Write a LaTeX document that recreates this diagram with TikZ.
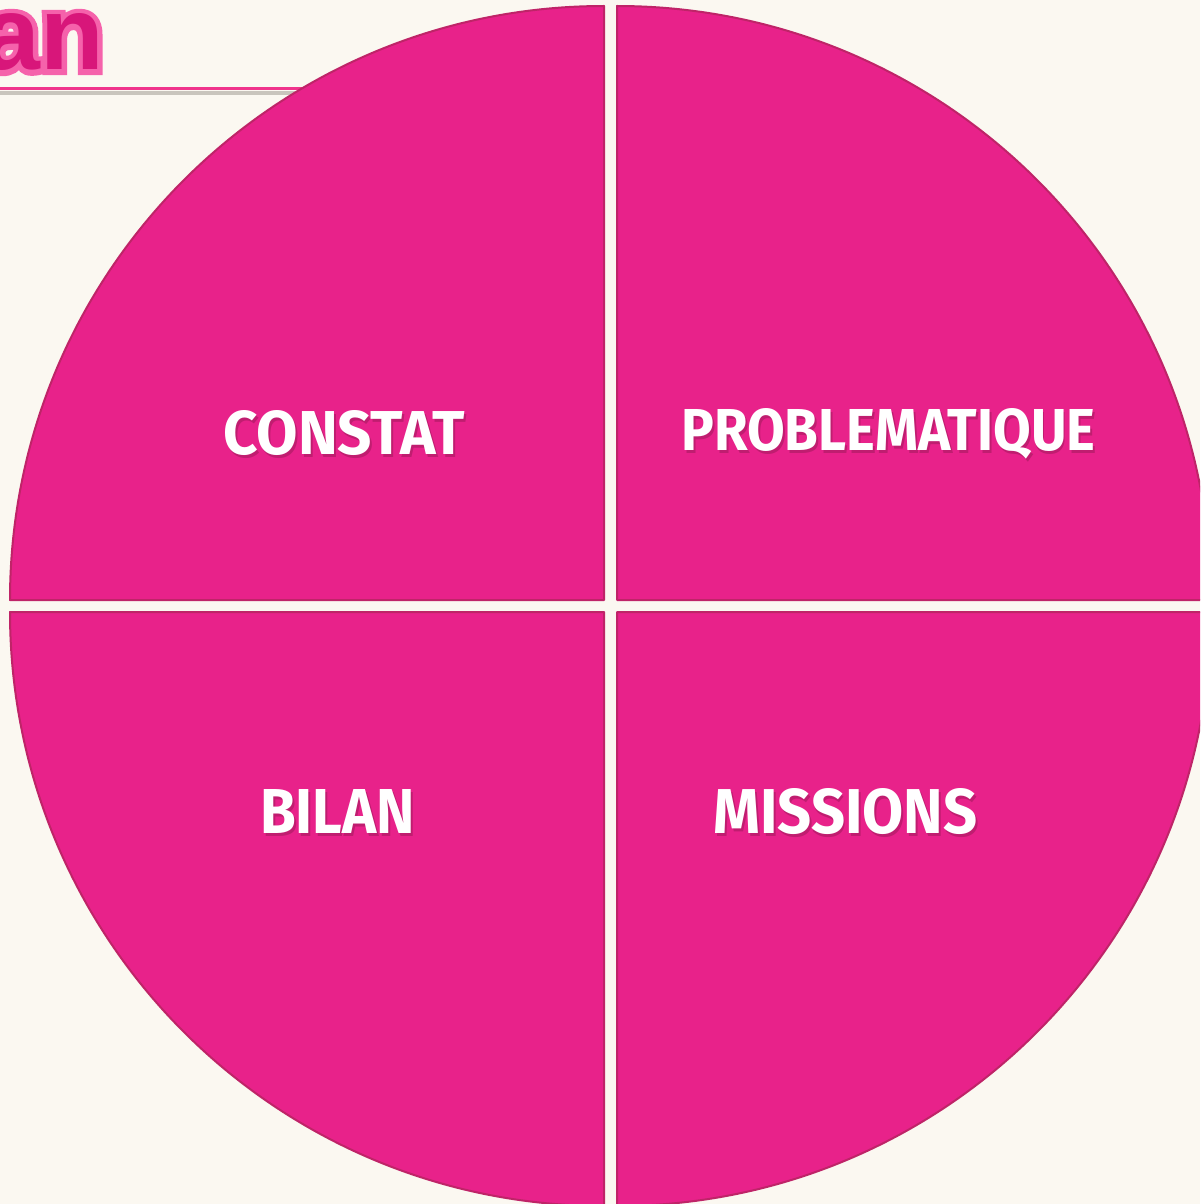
\documentclass[tikz,border=0pt]{standalone}
\usepackage{fontspec}
\newfontfamily\labfont{Fira Sans}
\newfontfamily\titlefont{Liberation Sans Bold}
\newfontfamily\titleoutfont{Liberation Sans Bold}[FakeBold=10]
\definecolor{bgcream}{HTML}{FBF8F1}
\definecolor{qpink}{HTML}{E8228A}
\definecolor{qedge}{HTML}{BF2468}
\definecolor{linepink}{HTML}{F0348C}
\definecolor{lineshadow}{HTML}{C9C5BD}
\definecolor{titlefill}{HTML}{D8167A}
\definecolor{titleout}{HTML}{F562AB}
\definecolor{shadowpink}{HTML}{C01D70}
\tikzset{
  quad/.style={fill=qpink, draw=qedge, line width=2pt, line join=round},
  lab/.style={inner sep=0pt, anchor=base west, text=white},
  titlem/.style={inner sep=0pt, anchor=base east, text=titlefill, font=\fontsize{104}{104}\selectfont}
}
% a copy of #3 shifted by (#1,#2) that takes no width
\newcommand{\shiftcopy}[3]{\makebox[0pt][l]{\hspace*{#1}\raisebox{#2}{#3}}}
% label with drop shadow in one box
\newcommand{\lbl}[3]{\shiftcopy{2pt}{-3pt}{\color{shadowpink}\resizebox{#1}{#2}{\labfont\bfseries #3}}\resizebox{#1}{#2}{\labfont\bfseries #3}}
% title with outline in one box
\newcommand{\ttl}[1]{\shiftcopy{0pt}{0pt}{\color{titleout}\titleoutfont #1}{\titlefont #1}}
\begin{document}
\begin{tikzpicture}[x=1pt,y=-1pt]
\fill[bgcream] (0,0) rectangle (1200,1204);
\useasboundingbox (0,0) rectangle (1200,1204);
\begin{scope}
\clip (0,0) rectangle (1200,1204);
% title underline
\draw[line width=4pt, color=lineshadow] (0,93.5) -- (330,93.5);
\draw[line width=3pt, color=linepink] (0,88.5) -- (330,88.5);
% title text
\node[titlem] (title) at (104,70) {\ttl{an}};
% quadrants
\path[quad] (604,600) -- (604,6) arc[start angle=270, end angle=180, radius=594] -- cycle;
\path[quad] (617,600) -- (617,6) arc[start angle=270, end angle=360, radius=594] -- cycle;
\path[quad] (604,612) -- (10,612) arc[start angle=180, end angle=90, radius=594] -- cycle;
\path[quad] (617,612) -- (1211,612) arc[start angle=0, end angle=90, radius=594] -- cycle;
% labels
\node[lab] (constat) at (223,454) {\lbl{242pt}{44pt}{CONSTAT}};
\node[lab] (problematique) at (681,450) {\lbl{414pt}{42pt}{PROBLEMATIQUE}};
\node[lab] (bilan) at (260,833) {\lbl{155pt}{44pt}{BILAN}};
\node[lab] (missions) at (713,833) {\lbl{264pt}{45pt}{MISSIONS}};
\end{scope}
\end{tikzpicture}
\end{document}
